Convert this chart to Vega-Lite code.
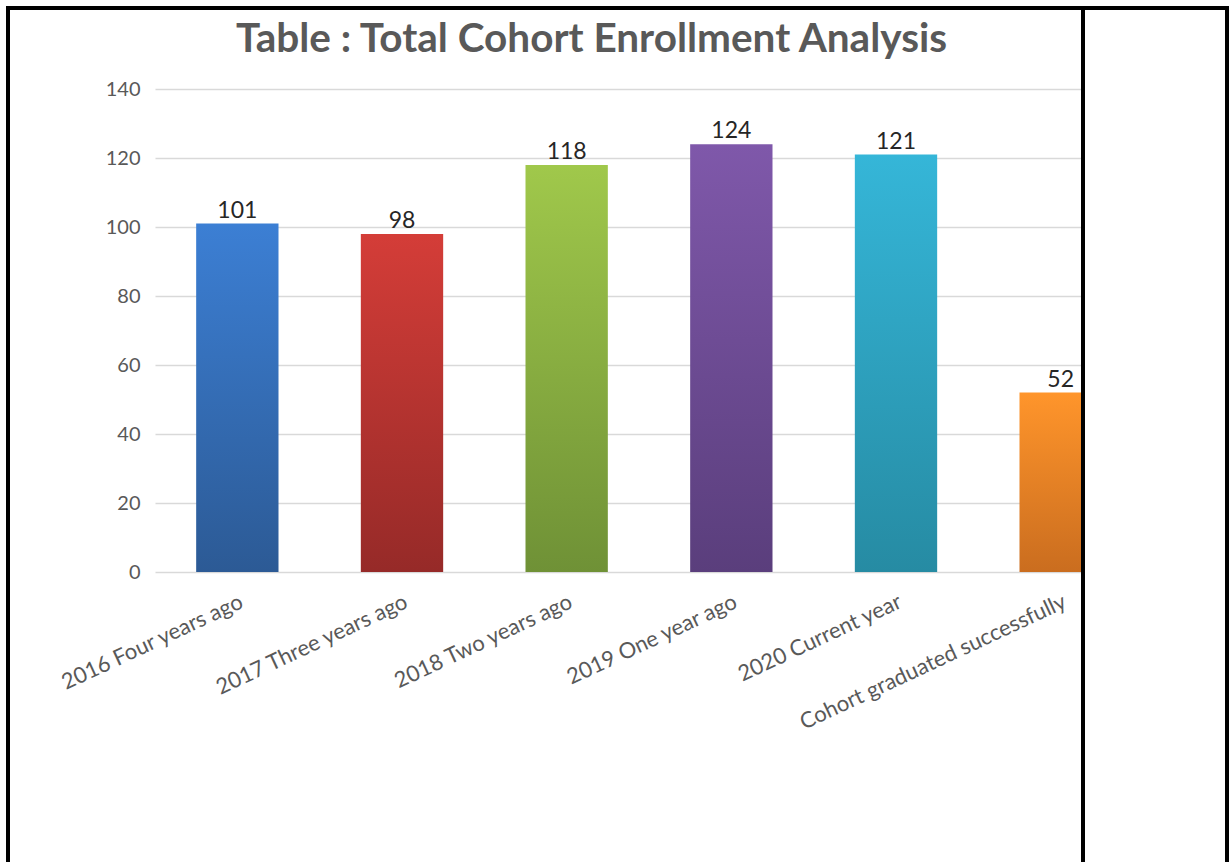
{
  "$schema": "https://vega.github.io/schema/vega-lite/v6.json",
  "padding": {"left": 6, "top": 6, "right": 0, "bottom": 0},
  "background": "white",
  "spacing": 0,
  "bounds": "flush",
  "config": {"font": "Lato", "concat": {"spacing": 0}},
  "hconcat": [
    {
      "width": 1075,
      "height": 854,
      "view": {"stroke": "black", "strokeWidth": 4, "strokeDash": [1929, 1075, 854], "fill": "white"},
      "title": {
        "text": "Table : Total Cohort Enrollment Analysis",
        "font": "Lato",
        "fontSize": 40.5,
        "fontWeight": "bold",
        "color": "#595959",
        "anchor": "middle",
        "frame": "group",
        "offset": -84,
        "baseline": "alphabetic",
        "dx": 46
      },
      "data": {
        "values": [
          {"category": "2016 Four years ago", "value": 101},
          {"category": "2017 Three years ago", "value": 98},
          {"category": "2018  Two  years ago", "value": 118},
          {"category": "2019 One  year ago", "value": 124},
          {"category": "2020 Current year", "value": 121},
          {"category": "Cohort graduated successfully", "value": 52}
        ]
      },
      "encoding": {
        "x": {
          "field": "category",
          "type": "nominal",
          "sort": null,
          "scale": {"range": [147, 1135], "paddingInner": 0.5, "paddingOuter": 0.25},
          "axis": {
            "title": null,
            "labelAngle": -25,
            "labelFontSize": 22,
            "labelColor": "#595959",
            "labelPadding": 19,
            "ticks": false,
            "domain": false,
            "offset": -290,
            "labelLimit": 500,
            "labelAlign": "right",
            "labelBaseline": "top",
            "labelOverlap": false
          }
        },
        "y": {
          "field": "value",
          "type": "quantitative",
          "scale": {"domain": [0, 140], "range": [564, 81], "nice": false},
          "axis": {
            "title": null,
            "values": [0, 20, 40, 60, 80, 100, 120, 140],
            "offset": -147,
            "labelPadding": 15,
            "ticks": false,
            "domain": false,
            "gridColor": "#D9D9D9",
            "gridWidth": 1.5,
            "labelColor": "#595959",
            "labelFontSize": 20
          }
        }
      },
      "layer": [
        {
          "mark": {"type": "bar"},
          "encoding": {
            "fill": {
              "condition": [
                {"test": "datum.category === '2016 Four years ago'", "value": {"gradient": "linear", "x1": 0, "y1": 0, "x2": 0, "y2": 1, "stops": [{"offset": 0, "color": "#3C7FD4"}, {"offset": 1, "color": "#2C5A95"}]}},
                {"test": "datum.category === '2017 Three years ago'", "value": {"gradient": "linear", "x1": 0, "y1": 0, "x2": 0, "y2": 1, "stops": [{"offset": 0, "color": "#D43D38"}, {"offset": 1, "color": "#962A28"}]}},
                {"test": "datum.category === '2018  Two  years ago'", "value": {"gradient": "linear", "x1": 0, "y1": 0, "x2": 0, "y2": 1, "stops": [{"offset": 0, "color": "#A0C84B"}, {"offset": 1, "color": "#6F9136"}]}},
                {"test": "datum.category === '2019 One  year ago'", "value": {"gradient": "linear", "x1": 0, "y1": 0, "x2": 0, "y2": 1, "stops": [{"offset": 0, "color": "#7F58AA"}, {"offset": 1, "color": "#5A3E7C"}]}},
                {"test": "datum.category === '2020 Current year'", "value": {"gradient": "linear", "x1": 0, "y1": 0, "x2": 0, "y2": 1, "stops": [{"offset": 0, "color": "#35B6D8"}, {"offset": 1, "color": "#268BA3"}]}}
              ],
              "value": {"gradient": "linear", "x1": 0, "y1": 0, "x2": 0, "y2": 1, "stops": [{"offset": 0, "color": "#FF952B"}, {"offset": 1, "color": "#CA6D1F"}]}
            }
          }
        },
        {
          "mark": {"type": "text", "dy": -6, "baseline": "alphabetic", "fontSize": 23, "color": "#262626"},
          "encoding": {"text": {"field": "value", "type": "quantitative"}}
        }
      ]
    },
    {
      "width": 144,
      "height": 854,
      "view": {"stroke": "black", "strokeWidth": 4, "strokeDash": [998, 144, 854], "fill": "white"},
      "data": {"values": [{}]},
      "mark": {"type": "text", "text": ""}
    }
  ]
}
